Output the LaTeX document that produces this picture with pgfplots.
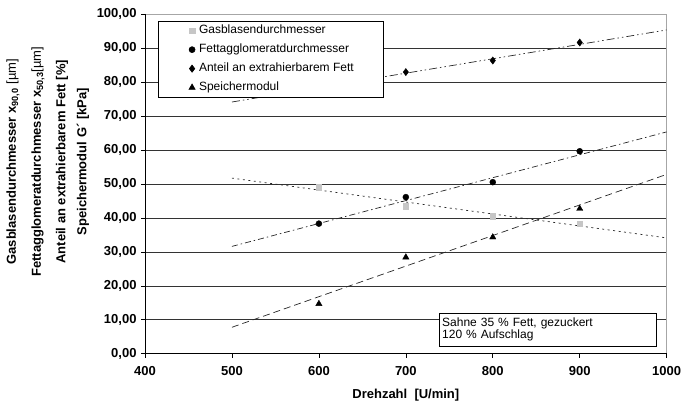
\documentclass[border=0pt]{standalone}
\usepackage{fontspec}
\setmainfont{Liberation Sans}
\usepackage{pgfplots}
\pgfplotsset{compat=1.18}
\begin{document}
\begin{tikzpicture}
\begin{axis}[
  scale only axis,
  width=522pt, height=340pt,
  xmin=400, xmax=1000, ymin=0, ymax=100,
  xtick={400,500,...,1000},
  ytick={0,10,...,100},
  scaled ticks=false,
  clip=false,
  tick align=outside,
  xtick pos=left, ytick pos=left,
  major tick length=4pt,
  major tick style={black, line width=0.6pt},
  axis line style={draw=gray!70, line width=0.6pt},
  ymajorgrids,
  grid style={black!80, line width=0.6pt},
  /pgf/number format/assume math mode=true,
  /pgf/number format/1000 sep={},
  tick label style={font=\fontsize{13}{15}\selectfont\bfseries},
  yticklabel style={/pgf/number format/.cd, fixed, fixed zerofill, precision=2, use comma, /tikz/.cd, xshift=-1pt},
  xticklabel style={yshift=-5pt},
  legend style={at={(axis description cs:0.0245,0.979)}, anchor=north west,
    draw=black, fill=white, line width=0.6pt,
    font=\fontsize{12}{14}\selectfont,
    inner xsep=2pt, inner ysep=2.5pt, row sep=5.5pt,
    cells={anchor=west},
    nodes={inner sep=1pt, text height=9pt, text depth=2.5pt}},
  legend image code/.code={\path[draw=none,fill=none] (0pt,-1pt) rectangle (38pt,1pt); \draw[#1] plot coordinates {(32pt,0pt)};},
]
% trend lines
\addplot[forget plot, black!85, line width=0.7pt, dash pattern=on 2pt off 3.5pt] coordinates {(500,51.7) (1000,34.1)};
\addplot[forget plot, black!85, line width=0.7pt, dash pattern=on 6pt off 3pt on 1.5pt off 3pt] coordinates {(500,31.6) (1000,65.3)};
\addplot[forget plot, black!85, line width=0.7pt, dash pattern=on 8pt off 3pt on 1.5pt off 3pt on 1.5pt off 3pt] coordinates {(500,74.1) (1000,95.3)};
\addplot[forget plot, black!85, line width=0.7pt, dash pattern=on 7pt off 4pt] coordinates {(500,7.8) (1000,52.8)};
% data
\addplot[only marks, mark=square*, mark size=2.8pt, color=gray!45] coordinates {(600,49.1) (700,43.5) (800,40.5) (900,38.3)};
\addlegendentry{Gasblasendurchmesser}
\addplot[only marks, mark=*, mark size=3pt, color=black] coordinates {(600,38.3) (700,46.1) (800,50.5) (900,59.6)};
\addlegendentry{Fettagglomeratdurchmesser}
\addplot[only marks, mark=diamond*, mark size=3.6pt, color=black] coordinates {(600,78.5) (700,82.9) (800,86.3) (900,91.6)};
\addlegendentry{Anteil an extrahierbarem Fett\rule{27pt}{0pt}}
\addplot[only marks, mark=triangle*, mark size=3.6pt, color=black] coordinates {(600,14.7) (700,28.4) (800,34.3) (900,42.7)};
\addlegendentry{Speichermodul}
\draw[black, line width=0.8pt] (rel axis cs:0,1) -- (rel axis cs:0,0) -- (rel axis cs:1,0);
\node[draw=black, fill=white, line width=0.6pt, anchor=north west, align=left,
  text width=211pt, inner xsep=3pt, minimum height=33pt,
  font=\fontsize{12}{12.5}\selectfont] at (axis cs:738,12.06)
  {Sahne 35 \% Fett, gezuckert\\120 \% Aufschlag};
\node[font=\fontsize{13}{15}\selectfont\bfseries, anchor=center] at (axis cs:700,-12.06) {Drehzahl~~[U/min]};
\node[rotate=90, font=\fontsize{13}{15}\selectfont\bfseries] at (axis cs:248.2,56.5) {Gasblasendurchmesser x\textsubscript{90,0} {\mdseries [µm]}};
\node[rotate=90, font=\fontsize{13}{15}\selectfont\bfseries] at (axis cs:276.9,56.5) {Fettagglomeratdurchmesser x\textsubscript{50,3}{\mdseries [µm]}};
\node[rotate=90, font=\fontsize{13}{15}\selectfont\bfseries] at (axis cs:304.5,56.5) {Anteil an extrahierbarem Fett [\%]};
\node[rotate=90, font=\fontsize{13}{15}\selectfont\bfseries] at (axis cs:328.7,56.5) {Speichermodul G´ [kPa]};
\coordinate (bbll) at (axis cs:233.2,-15.59);
\coordinate (bbur) at (axis cs:1018.8,104.12);
\end{axis}
\pgfresetboundingbox
\path[use as bounding box] (bbll) rectangle (bbur);
\end{tikzpicture}
\end{document}
